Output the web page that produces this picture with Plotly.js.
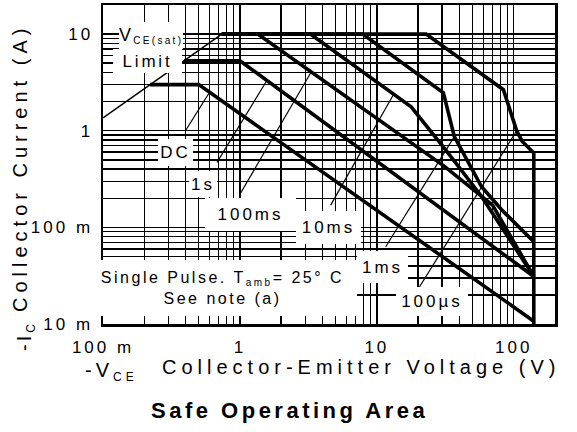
<!DOCTYPE html>
<html><head><meta charset="utf-8">
<script src="https://cdn.plot.ly/plotly-3.0.1.min.js"></script>
<style>body{margin:0;background:#fff}#chart{width:577px;height:432px}</style>
</head><body><div id="chart"></div>
<script>
// ---- tick / grid values ----
const xTickVals = [0.1,0.2,0.3,0.4,0.5,0.6,0.7,0.8,0.9,1,2,3,4,5,6,7,8,9,10,20,30,40,50,60,70,80,90,100,200];
const xTickText = ['100 m','','','','','','','','','1','','','','','','','','','10','','','','','','','','','100',''];
const yTickVals = [0.01,0.02,0.03,0.04,0.05,0.06,0.07,0.08,0.09,0.1,0.2,0.3,0.4,0.5,0.6,0.7,0.8,0.9,1,2,3,4,5,6,7,8,9,10,20];
const yTickText = ['10 m','','','','','','','','','100 m','','','','','','','','','1','','','','','','','','','10',''];

// ---- curves (V, A) ----
const vsatX = [0.1, 0.737];
const vsatY = [1.36, 10];
const dcX = [0.22, 0.5, 140];
const dcY = [3, 3, 0.0107];
const s1X = [0.39, 1.0, 140];
const s1Y = [5.3, 5.3, 0.031];
const ms100X = [0.737, 1.35, 31, 70, 140];
const ms100Y = [10, 10, 0.43, 0.17, 0.031];
const ms10X = [0.737, 3.27, 17.8, 31.6, 58, 140];
const ms10Y = [10, 10, 1.77, 0.64, 0.21, 0.031];
const ms1X = [0.737, 7.88, 30.6, 36.8, 58.2, 81.5, 140];
const ms1Y = [10, 10, 2.47, 0.87, 0.263, 0.152, 0.071];
const us100X = [0.737, 22.9, 84, 105, 115, 140, 140];
const us100Y = [10, 10, 2.66, 1.0, 0.78, 0.59, 0.01];

// ---- leader lines ----
const dcLeadX = [0.40, 0.6],  dcLeadY = [1.0, 2.5];
const s1LeadX = [0.68, 1.58], s1LeadY = [0.47, 3.35];
const ms100LeadX = [1.0, 3.3], ms100LeadY = [0.22, 4.0];
const ms10LeadX = [4.6, 13.3], ms10LeadY = [0.17, 2.4];
const ms1LeadX = [11.6, 36.8], ms1LeadY = [0.063, 0.87];
const us100LeadX = [20.4, 105], us100LeadY = [0.024, 1.0];

const FONT = 'Liberation Sans, Arial, Helvetica, sans-serif';
const sp = (t, px) => '<span style="letter-spacing:' + px + 'px">' + t + '</span>';

function thick(x, y) { return {x: x, y: y, mode: 'lines', line: {color: '#000', width: 3.6}, hoverinfo: 'skip'}; }
function thin(x, y, w) { return {x: x, y: y, mode: 'lines', line: {color: '#000', width: w}, hoverinfo: 'skip'}; }

const traces = [
  thin(vsatX, vsatY, 1.5),
  thin(dcLeadX, dcLeadY, 1.2), thin(s1LeadX, s1LeadY, 1.2), thin(ms100LeadX, ms100LeadY, 1.2),
  thin(ms10LeadX, ms10LeadY, 1.2), thin(ms1LeadX, ms1LeadY, 1.2), thin(us100LeadX, us100LeadY, 1.2),
  thick(dcX, dcY), thick(s1X, s1Y), thick(ms100X, ms100Y), thick(ms10X, ms10Y),
  thick(ms1X, ms1Y), thick(us100X, us100Y)
];

// plot area: left 103, right 555, top 5, bottom 324
const L = 103, W = 452, B = 324, H = 319;
const px = v => (v - L) / W;
const py = v => (B - v) / H;

function box(text, x0, x1, y0, y1, size, align) {
  return {text: text, xref: 'paper', yref: 'paper', x: px(x0), y: py(y0), xanchor: 'left', yanchor: 'top',
    width: x1 - x0, height: y1 - y0, showarrow: false, bgcolor: '#fff', borderwidth: 0, borderpad: 0,
    align: align || 'center', valign: 'middle', font: {family: FONT, size: size, color: '#000'}};
}
function label(text, x, y, size, opts) {
  return Object.assign({text: text, xref: 'paper', yref: 'paper', x: px(x), y: py(y), showarrow: false,
    xanchor: 'center', yanchor: 'middle', font: {family: FONT, size: size, color: '#000'}}, opts || {});
}

const annotations = [
  box(sp('V<sub><span style="font-size:10px">CE(sat)</span></sub>', 2.3), 119, 183, 22, 49, 18, 'left'),
  box(sp('Limit', 2.8), 113, 182, 49, 73, 17),
  box(sp('DC', 3), 158, 193, 139, 166, 17),
  box(sp('1s', 3), 189, 217, 171, 197, 17),
  box(sp('100ms', 3), 205, 296, 198, 231, 17),
  box(sp('10ms', 3), 296, 361, 211, 244, 17),
  box(sp('1ms', 3), 357, 408, 251, 283, 17),
  box(sp('100µs', 3), 396, 468, 287, 316, 17),
  box(sp('Single Pulse. T<sub><span style="font-size:10px">amb</span></sub>= 25° C', 2.5) + '<br>' + sp('See note (a)', 2.5), 88, 357, 260, 316, 16),
  label(sp('Collector Current (A)', 5), 20, 168, 20, {textangle: -90}),
  label(sp('-I<sub><span style="font-size:12px">C</span></sub>', 3), 25, 336, 20, {textangle: -90}),
  label(sp('-V<sub><span style="font-size:12px">CE</span></sub>', 4), 83, 372, 20, {xanchor: 'left'}),
  label(sp('Collector-Emitter Voltage (V)', 5), 361, 367, 20),
  label(sp('<b>Safe Operating Area</b>', 3.5), 289, 410, 22)
];

const axisCommon = {
  type: 'log', showgrid: true, gridcolor: '#000', gridwidth: 1.4, zeroline: false,
  showline: true, mirror: true, linecolor: '#000', linewidth: 2.5, ticks: '',
  tickmode: 'array', tickfont: {family: FONT, size: 17, color: '#000'}
};

const layout = {
  width: 577, height: 432, margin: {l: L, r: 577 - L - W, t: 5, b: 432 - B},
  paper_bgcolor: '#fff', plot_bgcolor: '#fff', showlegend: false,
  xaxis: Object.assign({}, axisCommon, {range: [-1, Math.log10(200)], tickvals: xTickVals,
    ticktext: xTickText.map(t => t ? sp(t, 3) : ''), ticklabelstandoff: 6}),
  yaxis: Object.assign({}, axisCommon, {range: [-2, Math.log10(20)], tickvals: yTickVals,
    ticktext: yTickText.map(t => t ? sp(t, 3) : ''), ticklabelstandoff: 4}),
  annotations: annotations
};

Plotly.newPlot('chart', traces, layout, {staticPlot: true, displayModeBar: false});
</script></body></html>
